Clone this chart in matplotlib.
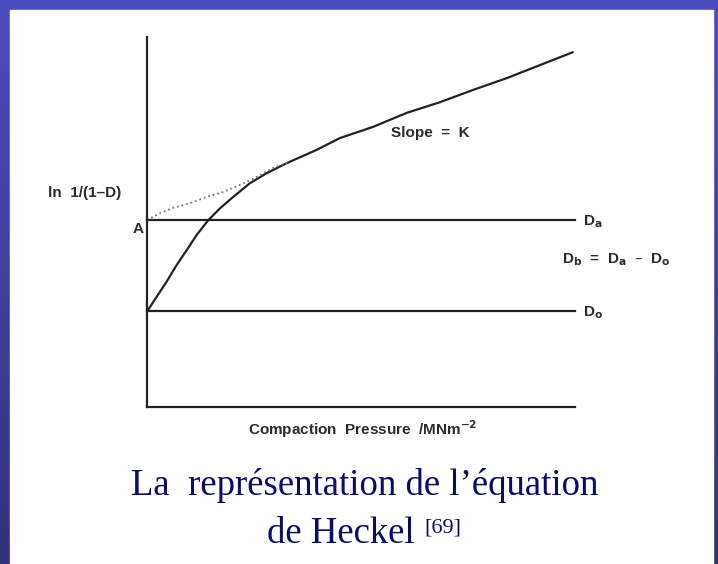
import numpy as np
import matplotlib
matplotlib.use("Agg")
import matplotlib.pyplot as plt
from matplotlib.patches import Rectangle

# Heckel plot, values (arbitrary units)
pressure = [0, 2.27, 4.60, 6.94, 9.28, 11.61, 14.32, 17.06, 20.16, 24.07, 27.97, 32.64,
            39.65, 45.1, 52.8, 60.7, 68.5, 76.2, 84.1, 91.8, 99.5]
ln_curve = [2.58, 2.98, 3.39, 3.84, 4.24, 4.65, 5.05, 5.37, 5.68, 6.05, 6.32, 6.59,
            6.95, 7.27, 7.57, 7.95, 8.24, 8.57, 8.89, 9.24, 9.59]
extrap_x = [0, 3.04, 6.07, 10.05, 14.02, 17.76, 21.7, 25.7, 29.4, 33.4]
extrap_y = [5.05, 5.24, 5.38, 5.51, 5.68, 5.81, 6.00, 6.22, 6.46, 6.62]
level_A = 5.05     # D_a line
level_0 = 2.59     # D_0 line
x_end = 100

fig = plt.figure(figsize=(7.18, 5.64), dpi=100)

# blue gradient frame behind everything
bg = fig.add_axes([0, 0, 1, 1])
grad = np.linspace(0, 1, 256).reshape(-1, 1)
top = np.array([77, 77, 192]) / 255.0
bot = np.array([50, 50, 122]) / 255.0
img = top + (bot - top) * grad[:, :, None]
bg.imshow(img, aspect="auto", extent=[0, 1, 0, 1])
bg.add_patch(Rectangle((10 / 718, 0), 703 / 718, 554 / 564, color="white", zorder=2))
bg.set_xlim(0, 1)
bg.set_ylim(0, 1)
bg.axis("off")

ax = fig.add_axes([147 / 718, 157 / 564, 428 / 718, 370 / 564])
ax.set_facecolor("none")
ink = "#222222"
ax.plot(pressure, ln_curve, color=ink, lw=1.6, clip_on=False,
        solid_joinstyle="round", solid_capstyle="round")
ax.plot(extrap_x, extrap_y, color="#777777", lw=1.3, ls=(0, (1, 1.6)), clip_on=False)
ax.plot([0, x_end], [level_A, level_A], color=ink, lw=1.6, clip_on=False)
ax.plot([0, x_end], [level_0, level_0], color=ink, lw=1.6, clip_on=False)

ax.set_xlim(0, 100)
ax.set_ylim(0, 10)
for s in ["top", "right"]:
    ax.spines[s].set_visible(False)
for s in ["left", "bottom"]:
    ax.spines[s].set_color(ink)
    ax.spines[s].set_linewidth(1.6)
ax.set_xticks([])
ax.set_yticks([])

f = "Liberation Sans"
tc = "#2b2b2b"
kw = dict(fontsize=11, family=f, color=tc, fontweight="bold")
ax.text(-23.1, 5.78, "ln  1/(1\u2013D)", va="center", ha="left", **kw)
ax.text(-0.9, 4.81, "A", va="center", ha="right", **kw)
ax.text(66.1, 7.41, "Slope  =  K", va="center", ha="center", **kw)
ax.text(101.9, 5.0, "D$_\\mathbf{a}$", va="center", ha="left", **kw)
ax.text(97.0, 3.98, "D$_\\mathbf{b}$  =  D$_\\mathbf{a}$  \u2013  D$_\\mathbf{o}$",
        va="center", ha="left", **kw)
ax.text(101.9, 2.55, "D$_\\mathbf{o}$", va="center", ha="left", **kw)
ax.text(50.5, -0.59, "Compaction  Pressure  /MNm$^{\\mathbf{-2}}$", va="center", ha="center", **kw)

navy = "#0b0b6e"
serif = "Liberation Serif"
fig.text(365 / 718, 0.1223, "La  repr\u00e9sentation de l\u2019\u00e9quation", fontsize=26.5,
         family=serif, color=navy, ha="center", va="baseline")
fig.text(415 / 718, 0.0372, "de Heckel", fontsize=26.5, family=serif, color=navy,
         ha="right", va="baseline")
fig.text(424 / 718, 0.055, "[69]", fontsize=16, family=serif, color=navy,
         ha="left", va="baseline")

fig.savefig("out.png", dpi=100)
